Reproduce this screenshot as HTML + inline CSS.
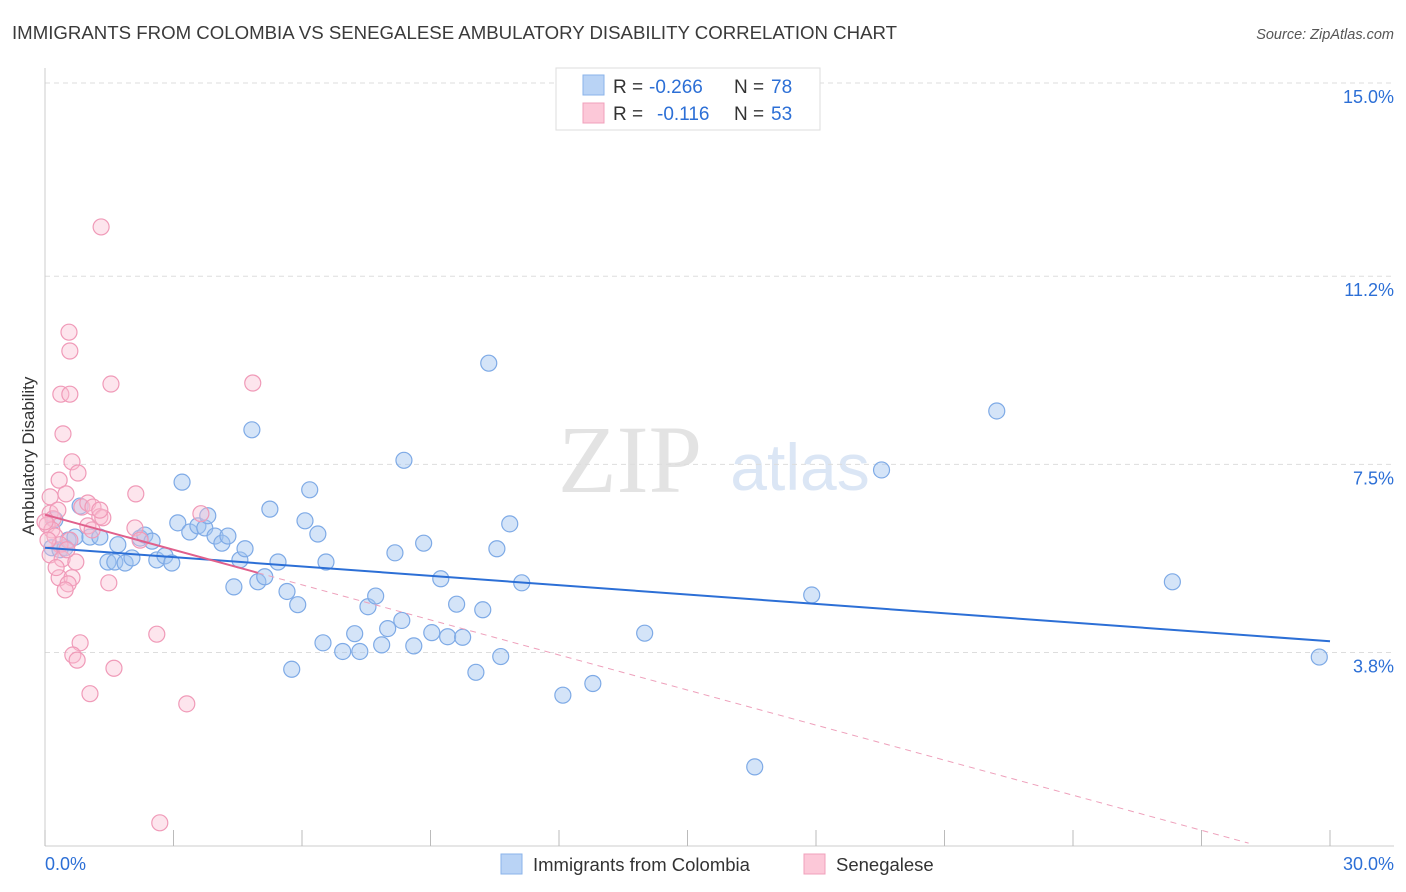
<!DOCTYPE html>
<html><head><meta charset="utf-8"><style>
body{margin:0;background:#fff;font-family:"Liberation Sans",sans-serif;}
svg{display:block}
</style></head><body>
<svg id="c" width="1406" height="892">
<text x="12" y="39" font-size="18" fill="#3a3a3a" textLength="885" lengthAdjust="spacingAndGlyphs">IMMIGRANTS FROM COLOMBIA VS SENEGALESE AMBULATORY DISABILITY CORRELATION CHART</text>
<text x="1394" y="39" font-size="14.5" fill="#555" font-style="italic" text-anchor="end">Source: ZipAtlas.com</text>
<text x="630" y="492" font-size="96" fill="#e3e3e3" font-family="Liberation Serif,serif" text-anchor="middle">ZIP</text>
<text x="800" y="490" font-size="66" fill="#dbe6f5" text-anchor="middle">atlas</text>
<text transform="translate(34,456) rotate(-90)" font-size="17" fill="#333" text-anchor="middle">Ambulatory Disability</text>
<g id="grid"></g><g id="marks"></g>
<g>
<rect x="556" y="68" width="264" height="62" fill="#fff" stroke="#ddd"/>
<rect x="583" y="75" width="21" height="20" fill="#b9d3f5" stroke="#8ab3ea"/>
<rect x="583" y="103" width="21" height="20" fill="#fcc8d8" stroke="#f0a0bb"/>
<text x="613" y="93" font-size="19" fill="#333">R =</text>
<text x="649" y="93" font-size="19" fill="#2c6fd6">-0.266</text>
<text x="734" y="93" font-size="19" fill="#333">N =</text>
<text x="771" y="93" font-size="19" fill="#2c6fd6">78</text>
<text x="613" y="120" font-size="19" fill="#333">R =</text>
<text x="657" y="120" font-size="19" fill="#2c6fd6">-0.116</text>
<text x="734" y="120" font-size="19" fill="#333">N =</text>
<text x="771" y="120" font-size="19" fill="#2c6fd6">53</text>
</g>
<g>
<rect x="501" y="854" width="21" height="20" fill="#b9d3f5" stroke="#8ab3ea"/>
<text x="533" y="871" font-size="18.5" fill="#333">Immigrants from Colombia</text>
<rect x="804" y="854" width="21" height="20" fill="#fcc8d8" stroke="#f0a0bb"/>
<text x="836" y="871" font-size="18.5" fill="#333">Senegalese</text>
</g>
</svg>
<script>
const blueX=[0.16,0.23,0.35,0.47,0.54,0.70,0.82,1.05,1.28,1.47,1.63,1.70,1.87,2.03,2.22,2.33,2.50,2.61,2.80,2.96,3.10,3.20,3.38,3.57,3.73,3.80,3.97,4.13,4.27,4.41,4.55,4.67,4.83,4.97,5.13,5.25,5.44,5.65,5.76,5.90,6.07,6.18,6.37,6.49,6.56,6.95,7.23,7.35,7.54,7.72,7.86,8.00,8.33,8.38,8.61,8.17,8.84,9.03,9.24,9.40,9.61,9.75,10.06,10.22,10.36,10.55,10.64,10.85,11.13,12.09,12.79,14.00,16.57,17.90,19.53,22.22,26.32,29.75];
const blueY=[5.86,6.41,5.82,5.86,6.01,6.07,6.68,6.07,6.07,5.58,5.58,5.92,5.56,5.66,6.05,6.11,5.99,5.62,5.70,5.56,6.35,7.15,6.17,6.29,6.25,6.49,6.09,5.95,6.09,5.09,5.62,5.84,8.18,5.19,5.29,6.62,5.58,5.00,3.47,4.74,6.39,7.00,6.13,3.99,5.58,3.82,4.17,3.82,4.70,4.91,3.95,4.27,4.43,7.58,3.93,5.76,5.95,4.19,5.25,4.11,4.75,4.10,3.41,4.64,9.49,5.84,3.72,6.33,5.17,2.96,3.19,4.18,1.55,4.93,7.39,8.55,5.19,3.71];
const pinkX=[1.31,0.56,0.58,0.37,0.58,1.54,4.85,0.42,0.63,0.77,0.33,0.49,2.12,0.12,0.86,1.00,1.12,0.12,0.19,0.30,1.28,1.35,3.64,0.05,0.16,0.23,1.00,2.10,0.58,0.35,0.12,0.40,0.72,0.33,0.63,0.54,0.47,1.49,0.82,0.65,0.75,1.61,2.61,1.05,3.31,2.68,0,0.07,1.10,2.22,0.51,0.26,1.28];
const pinkY=[12.17,10.10,9.73,8.88,8.88,9.08,9.10,8.10,7.55,7.33,7.19,6.92,6.92,6.86,6.66,6.74,6.66,6.54,6.43,6.60,6.47,6.45,6.53,6.31,6.21,6.09,6.29,6.25,6.01,5.92,5.72,5.64,5.58,5.27,5.27,5.15,5.03,5.17,3.99,3.75,3.65,3.49,4.16,2.99,2.79,0.45,6.37,6.01,6.21,6.01,5.82,5.47,6.60];
const yTicks=[15.0,11.2,7.5,3.8];
const yTickLabels=["15.0%","11.2%","7.5%","3.8%"];
const blueTrend=[5.86,4.02];
const pinkTrend=[6.51,0.05];
const pinkTrendEnd=28.1, pinkSolidEnd=4.97;
const X=v=>45+v*(1285/30), Y=v=>845.7-v*(572/11.25);
const NS="http://www.w3.org/2000/svg";
const grid=document.getElementById('grid'), marks=document.getElementById('marks');
function mk(tag,attrs,parent){const e=document.createElementNS(NS,tag);for(const k in attrs)e.setAttribute(k,attrs[k]);parent.appendChild(e);return e;}
yTicks.forEach((t,i)=>{
 const l=mk('line',{x1:45,x2:1394,y1:Y(t),y2:Y(t),stroke:'#ddd','stroke-dasharray':'5,4'},grid);
 
 
 const tx=mk('text',{x:1394,y:Y(t)+20,'font-size':18,fill:'#2c6fd6','text-anchor':'end'},grid);
 tx.textContent=yTickLabels[i];
 
 
});
mk('line',{x1:45,x2:45,y1:68,y2:846,stroke:'#ccc'},grid);
mk('line',{x1:45,x2:1394,y1:846,y2:846,stroke:'#ccc'},grid);
for(let i=0;i<=10;i++){const t=mk('line',{x1:X(i*3),x2:X(i*3),y1:830,y2:846,stroke:'#bbb'},grid);}
[[0,"0.0%","start",45],[30,"30.0%","end",1394]].forEach(a=>{const t=mk('text',{x:a[3],y:870,'font-size':18,fill:'#2c6fd6','text-anchor':a[2]},grid);t.textContent=a[1];});
blueX.forEach((v,i)=>{const c=mk('circle',{cx:X(v),cy:Y(blueY[i]),r:8,fill:'rgba(160,195,240,0.45)',stroke:'#7eaae6','stroke-width':1.2},marks);
 
 });
pinkX.forEach((v,i)=>{const c=mk('circle',{cx:X(v),cy:Y(pinkY[i]),r:8,fill:'rgba(250,190,210,0.4)',stroke:'#f09ab8','stroke-width':1.2},marks);
 
 });
const pAt=x=>pinkTrend[0]+(pinkTrend[1]-pinkTrend[0])*x/pinkTrendEnd;
const bl=mk('line',{x1:X(0),y1:Y(blueTrend[0]),x2:X(30),y2:Y(blueTrend[1]),stroke:'#2c6fd6','stroke-width':2},marks);


const pl=mk('line',{x1:X(0),y1:Y(pAt(0)),x2:X(pinkSolidEnd),y2:Y(pAt(pinkSolidEnd)),stroke:'#e0608c','stroke-width':2},marks);


const pd=mk('line',{x1:X(pinkSolidEnd),y1:Y(pAt(pinkSolidEnd)),x2:X(pinkTrendEnd),y2:Y(pAt(pinkTrendEnd)),stroke:'#eea0bb','stroke-width':1,'stroke-dasharray':'6,5'},marks);


</script>
</body></html>
